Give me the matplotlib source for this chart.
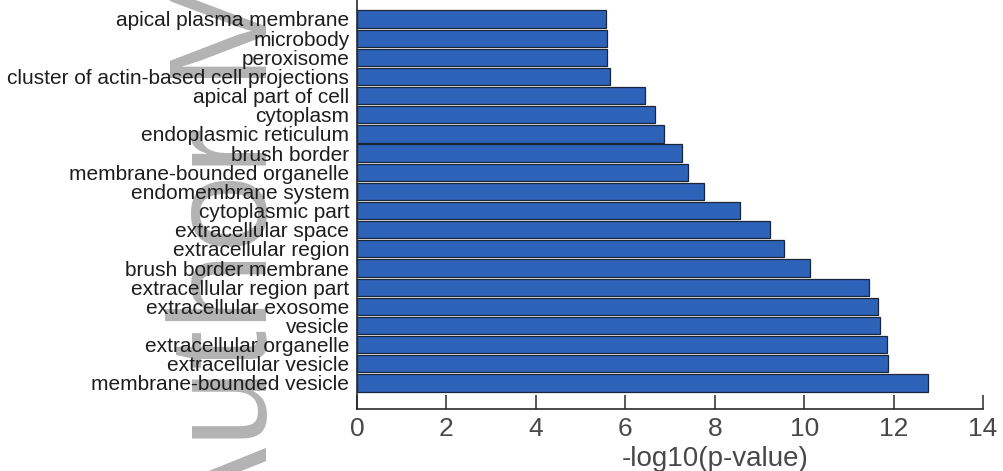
import matplotlib
matplotlib.use("Agg")
import matplotlib.pyplot as plt

# GO cellular-component terms, listed top to bottom
terms = [
    "apical plasma membrane",
    "microbody",
    "peroxisome",
    "cluster of actin-based cell projections",
    "apical part of cell",
    "cytoplasm",
    "endoplasmic reticulum",
    "brush border",
    "membrane-bounded organelle",
    "endomembrane system",
    "cytoplasmic part",
    "extracellular space",
    "extracellular region",
    "brush border membrane",
    "extracellular region part",
    "extracellular exosome",
    "vesicle",
    "extracellular organelle",
    "extracellular vesicle",
    "membrane-bounded vesicle",
]
neg_log10_p = [
    5.57, 5.60, 5.60, 5.66, 6.44, 6.66, 6.86, 7.27, 7.40, 7.75,
    8.57, 9.23, 9.55, 10.12, 11.45, 11.65, 11.70, 11.85, 11.88, 12.76,
]
x_ticks = [0, 2, 4, 6, 8, 10, 12, 14]
x_label = "-log10(p-value)"
watermark = "Author Manuscript"

W, H = 1004, 471
fig = plt.figure(figsize=(W / 100, H / 100), dpi=100)
fig.patch.set_facecolor("white")

# faint rotated watermark in the left margin
fig.text(267 / W, (H - 540) / H, watermark, rotation=90, rotation_mode="anchor",
         ha="left", va="baseline", fontsize=100.8, family="Liberation Sans",
         color="#b3b3b3", zorder=-5)

ax_left, ax_right = 357, 983
ax_bottom, ax_top = 409, -7.06
ax = fig.add_axes([ax_left / W, (H - ax_bottom) / H,
                   (ax_right - ax_left) / W, (ax_bottom - ax_top) / H])
ax.set_facecolor("none")

n = len(terms)
ypos = list(range(n - 1, -1, -1))
ax.barh(ypos, neg_log10_p, height=0.9, color="#2d62b9",
        edgecolor="#1b2638", linewidth=0.9, zorder=2)

ax.set_xlim(0, 14)
ax.set_ylim(-1.36, n - 1 + 1.36)
ax.set_xticks(x_ticks)
ax.set_xticklabels([str(t) for t in x_ticks], family="Liberation Sans",
                   fontsize=19, color="#484848")
ax.set_yticks(ypos)
ax.set_yticklabels(terms, family="Liberation Sans", fontsize=15, color="#1e1e1e")

for side in ("top", "right"):
    ax.spines[side].set_visible(False)
for side in ("left", "bottom"):
    ax.spines[side].set_linewidth(1.2)
    ax.spines[side].set_color("#2a2a2a")

ax.tick_params(axis="x", direction="in", length=10, width=1.1,
               color="#2a2a2a", pad=6)
ax.tick_params(axis="y", length=0, pad=5.5)

ax.set_xlabel(x_label, family="Liberation Sans", fontsize=20, color="#484848")
ax.xaxis.set_label_coords(8 / 14, (ax_bottom - 446) / (ax_bottom - ax_top))

fig.savefig("out.png", dpi=100)
